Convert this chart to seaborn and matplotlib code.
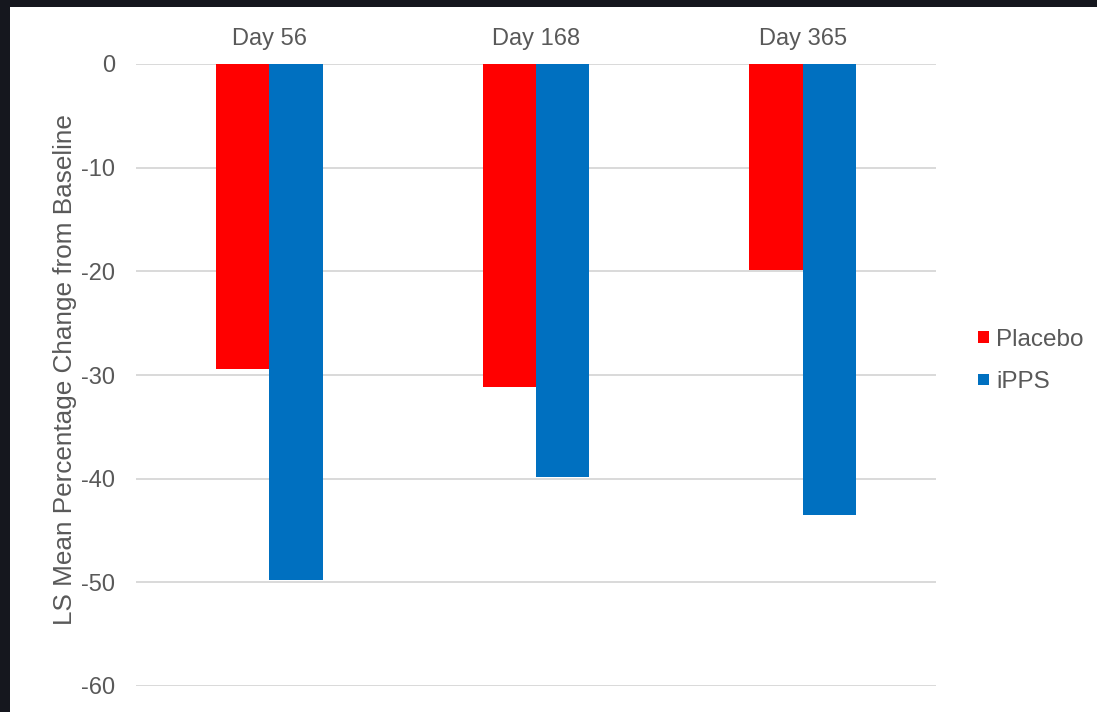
import matplotlib
matplotlib.use('Agg')
import matplotlib.pyplot as plt
from matplotlib.patches import Rectangle
import pandas as pd
import seaborn as sns

# values
days = ['Day 56', 'Day 168', 'Day 365']
groups = ['Placebo', 'iPPS']
placebo = [-29.4, -31.2, -19.9]
ipps = [-49.8, -39.8, -43.5]
yticks = [0, -10, -20, -30, -40, -50, -60]
colors = {'Placebo': '#ff0000', 'iPPS': '#0070c0'}

df = pd.DataFrame({
    'day': days * 2,
    'group': ['Placebo'] * 3 + ['iPPS'] * 3,
    'change': placebo + ipps,
})

sns.set_style('white')
plt.rcParams['font.family'] = ['Liberation Sans', 'DejaVu Sans']
text_col = '#595959'

fig = plt.figure(figsize=(10.97, 7.12), dpi=100)
fig.patch.set_facecolor('#15171e')
# white slide panel (dark frame on top and left)
fig.patches.append(Rectangle((10 / 1097, 0), 1, 1 - 7 / 712, transform=fig.transFigure,
                             facecolor='white', edgecolor='none', zorder=-5))

ax = fig.add_axes([136 / 1097, 1 - 686 / 712, 800 / 1097, 622 / 712])
ax.set_zorder(2)
ax.set_facecolor('none')

sns.barplot(data=df, x='day', y='change', hue='group', hue_order=groups,
            palette=colors, width=0.4, saturation=1, linewidth=0, ax=ax, zorder=3)

ax.set_ylim(-60, 0)
ax.set_yticks(yticks)
ax.set_yticklabels([str(v) for v in yticks])
ax.xaxis.tick_top()
ax.tick_params(axis='x', length=0, pad=10, labelsize=17, labelcolor=text_col)
ax.tick_params(axis='y', length=0, pad=15, labelsize=17, labelcolor=text_col)
ax.set_xlabel('')
ax.set_ylabel('LS Mean Percentage Change from Baseline', fontsize=18.8, color=text_col)
ax.yaxis.set_label_coords(-0.074, 0.508)

ax.grid(axis='y', color='#d9d9d9', linewidth=1.4, zorder=0)
ax.set_axisbelow(True)
for s in ax.spines.values():
    s.set_visible(False)

leg = ax.legend(loc='center left', bbox_to_anchor=(966 / 1097, 1 - 361 / 712),
                bbox_transform=fig.transFigure, frameon=False, fontsize=17.5,
                handlelength=0.45, handleheight=0.36, handletextpad=0.3,
                labelspacing=0.85, borderpad=0, labelcolor=text_col)

fig.savefig('out.png', dpi=100, facecolor=fig.get_facecolor())
